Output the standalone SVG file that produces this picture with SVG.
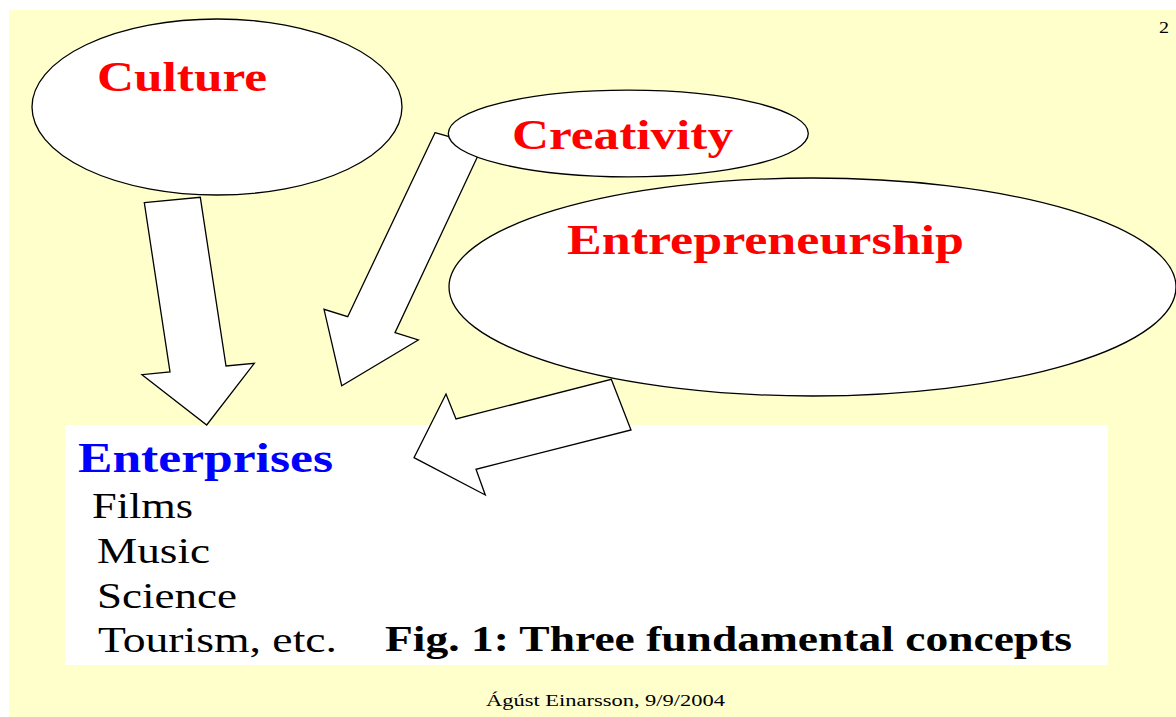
<svg xmlns="http://www.w3.org/2000/svg" width="1176" height="717" viewBox="0 0 1176 717">
  <style>
    .shape { fill: #ffffff; stroke: #000000; stroke-width: 1.3; stroke-linejoin: miter; }
    .head { font-family: "Liberation Serif", "Times New Roman", serif; font-weight: bold; font-size: 43px; fill: #ff0000; }
    .blue { fill: #0000ff; }
    .item { font-family: "Liberation Serif", "Times New Roman", serif; font-size: 35px; fill: #000000; }
    .cap { font-family: "Liberation Serif", "Times New Roman", serif; font-weight: bold; font-size: 35px; fill: #000000; }
    .small { font-family: "Liberation Serif", "Times New Roman", serif; font-size: 16px; fill: #000000; }
  </style>

  <!-- slide background -->
  <rect x="0" y="0" width="1176" height="717" fill="#ffffff"/>
  <rect x="9" y="10" width="1167" height="707" fill="#ffffcc"/>
  <text class="small" x="1159" y="33" textLength="10" lengthAdjust="spacingAndGlyphs">2</text>

  <!-- Enterprises box -->
  <g id="enterprises">
    <rect x="65" y="425" width="1043" height="240" fill="#ffffff"/>
    <text class="head blue" x="78" y="472" textLength="255" lengthAdjust="spacingAndGlyphs">Enterprises</text>
    <text class="item" x="92" y="518" textLength="101" lengthAdjust="spacingAndGlyphs">Films</text>
    <text class="item" x="97" y="563" textLength="113" lengthAdjust="spacingAndGlyphs">Music</text>
    <text class="item" x="97" y="608" textLength="140" lengthAdjust="spacingAndGlyphs">Science</text>
    <text class="item" x="98" y="652" textLength="239" lengthAdjust="spacingAndGlyphs">Tourism, etc.</text>
    <text class="cap" x="385" y="651" textLength="687" lengthAdjust="spacingAndGlyphs">Fig. 1: Three fundamental concepts</text>
  </g>

  <!-- block arrows into the Enterprises box -->
  <g id="connectors">
    <polygon class="shape" points="144.3,202.7 200.3,197.3 226,366 254.3,363.3 206.7,425 142,374.7 170,372"/>
    <polygon class="shape" points="435,132.7 482.5,146 395,332.7 418.3,340 341.7,385.7 324,309.3 347.7,316.7"/>
    <polygon class="shape" points="611.3,379.3 631,430 476,469.3 485.3,495 414,457.7 446,394 456,419"/>
  </g>

  <!-- concept ellipses -->
  <g id="culture">
    <ellipse class="shape" cx="217" cy="107" rx="185" ry="88"/>
    <text class="head" x="97" y="91" textLength="170" lengthAdjust="spacingAndGlyphs">Culture</text>
  </g>
  <g id="entrepreneurship">
    <ellipse class="shape" cx="812.5" cy="287" rx="363.5" ry="109"/>
    <text class="head" x="567" y="254" textLength="397" lengthAdjust="spacingAndGlyphs">Entrepreneurship</text>
  </g>
  <g id="creativity">
    <ellipse class="shape" cx="628.3" cy="133.5" rx="180" ry="43.3"/>
    <text class="head" x="512" y="149" textLength="221" lengthAdjust="spacingAndGlyphs">Creativity</text>
  </g>

  <!-- footer -->
  <text class="small" x="486" y="706" textLength="239" lengthAdjust="spacingAndGlyphs">Ágúst Einarsson, 9/9/2004</text>
</svg>
